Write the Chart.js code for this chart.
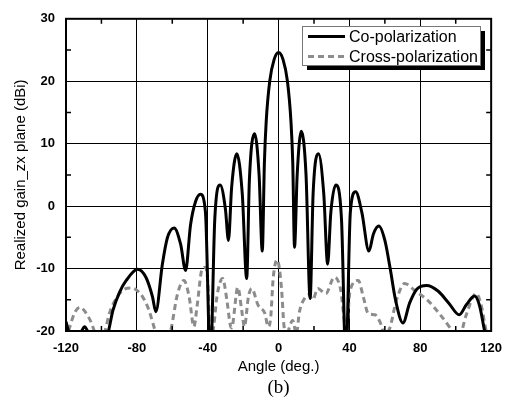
<!DOCTYPE html>
<html>
<head>
<meta charset="utf-8">
<script src="https://cdn.jsdelivr.net/npm/chart.js@4/dist/chart.umd.min.js"></script>
<style>
  html, body { margin: 0; padding: 0; background: #fff; }
  canvas { display: block; }
</style>
</head>
<body>
<canvas id="chart" width="512" height="401"></canvas>
<script>
// Co-polarization (black solid)
const coAngles = [-120, -118, -115, -111.5, -109.5, -107.5, -104, -98, -96, -93.5, -89.8, -86, -79.6, -74.9, -71.2, -69.3,
  -65.6, -62.8, -59, -55.3, -52.5, -49.7, -46.9, -44.1, -41.3, -38.5, -36, -33, -30, -28.3,
  -26.5, -23.6, -20.5, -18, -16.5, -13.5, -11, -9.2, -8, -7, -5, -2.5, 0, 2.5, 5, 7, 8, 9,
  10.5, 12.8, 15.5, 17.8, 19.5, 22.5, 25.5, 27.7, 29.5, 32.3, 35.5, 38, 40.5, 43.5, 47, 51,
  53.5, 56.6, 60, 63, 66, 70.2, 74, 78, 83.6, 90, 96, 102, 106, 110.7, 113.5, 116.3, 118];
const coGain = [-18.5, -20.5, -22, -20.2, -19.3, -20.2, -22, -22, -20, -16.7, -13.8, -11.9, -10.1, -11.4, -14.5, -16.9,
  -9.3, -5.1, -3.5, -6.1, -10.3, -3, 0.7, 1.9, -0.9, -25, -2, 3.4, -0.5, -5.5,
  3, 8.4, 2, -11.6, 4, 11.6, 5, -7.2, 7, 13.5, 20, 23.5, 24.6, 23.5, 20, 13.5, 7, -6.6,
  5, 12, 5, -14.8, 2, 8.4, 2, -9.3, -1, 3.4, -2, -25, -1, 2.3, -1, -7.2,
  -4.5, -3.2, -5.5, -10, -15, -18.7, -15.5, -13.3, -12.7, -13.6, -15.5, -17.4, -15.8, -14.4, -16, -20, -22];

// Cross-polarization (grey dashed)
const crossAngles = [-120, -117.5, -115, -112, -109, -106, -104, -101, -98, -95.4, -91, -87, -83.2, -79.5, -76.8, -73, -71, -69,
  -65, -61, -57, -53.4, -50.5, -47.8, -46, -43.2, -41.3, -40, -38.5, -36.5, -34.8, -31.6, -29.2, -27.3,
  -26.5, -23, -20.8, -19.3, -17, -15.2, -11.5, -7.7, -5.9, -4.5, -3, -0.8, 1.6, 3, 4.5, 6, 8, 10,
  11.8, 14.6, 17, 19.3, 22.1, 26.7, 31.4, 35.1, 37, 38, 40.4, 45, 47.8, 50.6, 54.4, 57.2, 60, 62.8,
  66.5, 71.2, 76.8, 84.2, 90.7, 96.3, 99, 102, 105.6, 111.6, 114.5, 116.8, 118];
const crossGain = [-21.5, -19, -17, -16.2, -17, -18.5, -20, -22, -20, -17.1, -14.5, -13.3, -13.1, -13.6, -14.5, -16.8, -18.7, -20.5,
  -22, -20, -14, -11.9, -14.5, -19.3, -16, -10.1, -9.8, -12, -22, -19, -14.5, -11.6, -15, -19,
  -19.5, -13, -16.7, -19.3, -14.5, -13.2, -15.9, -17.2, -19.3, -18, -11.4, -8.6, -13, -19, -21, -19.5, -18.3, -20.5,
  -16.9, -14.8, -14.2, -15, -13.2, -14, -11.4, -13.5, -18.2, -21, -13.5, -11.9, -14.5, -17.2, -17.4, -18.5, -20.5, -19.5,
  -15.1, -12.4, -13.5, -15.1, -17.2, -19.3, -20.5, -21, -17.7, -14, -16, -19.5, -21];

const xTicks = [-120, -80, -40, 0, 40, 80, 120];
const yTicks = [-20, -10, 0, 10, 20, 30];
const xMinor = [-100, -60, -20, 20, 60, 100];
const yMinor = [-15, -5, 5, 15, 25];

const seriesNames = ["Co-polarization", "Cross-polarization"];

function toPoints(xs, ys) {
  return xs.map((x, i) => ({ x: x, y: ys[i] }));
}

// frame, minor ticks, caption and the shadowed legend
const decorPlugin = {
  id: "decor",
  afterDatasetsDraw(chart) {
    const { ctx, chartArea: a, scales } = chart;
    const xs = scales.x, ys = scales.y;
    ctx.save();
    ctx.strokeStyle = "#000";
    ctx.lineWidth = 1.5;
    ctx.beginPath();
    xMinor.forEach((v) => {
      const px = xs.getPixelForValue(v);
      ctx.moveTo(px, a.bottom); ctx.lineTo(px, a.bottom - 5);
      ctx.moveTo(px, a.top); ctx.lineTo(px, a.top + 5);
    });
    yMinor.forEach((v) => {
      const py = ys.getPixelForValue(v);
      ctx.moveTo(a.left, py); ctx.lineTo(a.left + 5, py);
      ctx.moveTo(a.right, py); ctx.lineTo(a.right - 5, py);
    });
    ctx.stroke();

    ctx.lineWidth = 2;
    ctx.strokeRect(a.left, a.top, a.right - a.left, a.bottom - a.top);

    // legend box with shadow
    const lx = 302, ly = 26, lw = 178, lh = 39;
    ctx.fillStyle = "#000";
    ctx.fillRect(lx + 5, ly + 5, lw, lh);
    ctx.fillStyle = "#fff";
    ctx.fillRect(lx, ly, lw, lh);
    ctx.strokeStyle = "#777";
    ctx.lineWidth = 1;
    ctx.strokeRect(lx + 0.5, ly + 0.5, lw, lh);

    const ds = chart.data.datasets;
    const rows = [36.5, 56.5];
    ctx.font = "16px 'Liberation Sans', Arial, sans-serif";
    ctx.textBaseline = "middle";
    ds.forEach((d, i) => {
      ctx.strokeStyle = d.borderColor;
      ctx.lineWidth = 3;
      ctx.setLineDash(d.borderDash || []);
      ctx.beginPath();
      ctx.moveTo(308, rows[i]);
      ctx.lineTo(345, rows[i]);
      ctx.stroke();
      ctx.setLineDash([]);
      ctx.fillStyle = "#000";
      ctx.fillText(d.label, 349, rows[i] + 1);
    });

    // caption
    ctx.font = "19px 'Liberation Serif', 'Times New Roman', serif";
    ctx.textAlign = "center";
    ctx.fillText("(b)", (a.left + a.right) / 2, 388);
    ctx.restore();
  },
};

const ctx = document.getElementById("chart").getContext("2d");
new Chart(ctx, {
  type: "line",
  data: {
    datasets: [
      {
        label: seriesNames[0],
        data: toPoints(coAngles, coGain),
        borderColor: "#000",
        borderWidth: 3,
        pointRadius: 0,
        cubicInterpolationMode: "monotone",
        fill: false,
        order: 1,
      },
      {
        label: seriesNames[1],
        data: toPoints(crossAngles, crossGain),
        borderColor: "#8c8c8c",
        borderWidth: 3,
        borderDash: [6, 4],
        pointRadius: 0,
        cubicInterpolationMode: "monotone",
        fill: false,
        order: 2,
      },
    ],
  },
  options: {
    responsive: false,
    animation: false,
    layout: { autoPadding: false, padding: { top: 15, right: 16, left: 0, bottom: 0 } },
    plugins: { legend: { display: false }, tooltip: { enabled: false } },
    scales: {
      x: {
        type: "linear",
        min: -120,
        max: 120,
        afterBuildTicks: (s) => { s.ticks = xTicks.map((v) => ({ value: v })); },
        afterFit: (s) => { s.height = 70; },
        grid: { color: "#000", lineWidth: 1, drawTicks: false },
        border: { color: "#000", width: 2 },
        ticks: {
          padding: 10,
          color: "#000",
          font: { family: "'Liberation Sans', Arial, sans-serif", size: 13, weight: "bold" },
        },
        title: {
          display: true,
          text: "Angle (deg.)",
          color: "#000",
          font: { family: "'Liberation Sans', Arial, sans-serif", size: 15 },
          padding: { top: 0, bottom: 25 },
        },
      },
      y: {
        min: -20,
        max: 30,
        afterBuildTicks: (s) => { s.ticks = yTicks.map((v) => ({ value: v })); },
        afterFit: (s) => { s.width = 66; },
        grid: { color: "#000", lineWidth: 1, drawTicks: false },
        border: { color: "#000", width: 2 },
        ticks: {
          padding: 11,
          color: "#000",
          font: { family: "'Liberation Sans', Arial, sans-serif", size: 13, weight: "bold" },
        },
        title: {
          display: true,
          text: "Realized gain_zx plane (dBi)",
          color: "#000",
          font: { family: "'Liberation Sans', Arial, sans-serif", size: 15 },
          padding: { top: 12, bottom: 0 },
        },
      },
    },
  },
  plugins: [decorPlugin],
});
</script>
</body>
</html>
